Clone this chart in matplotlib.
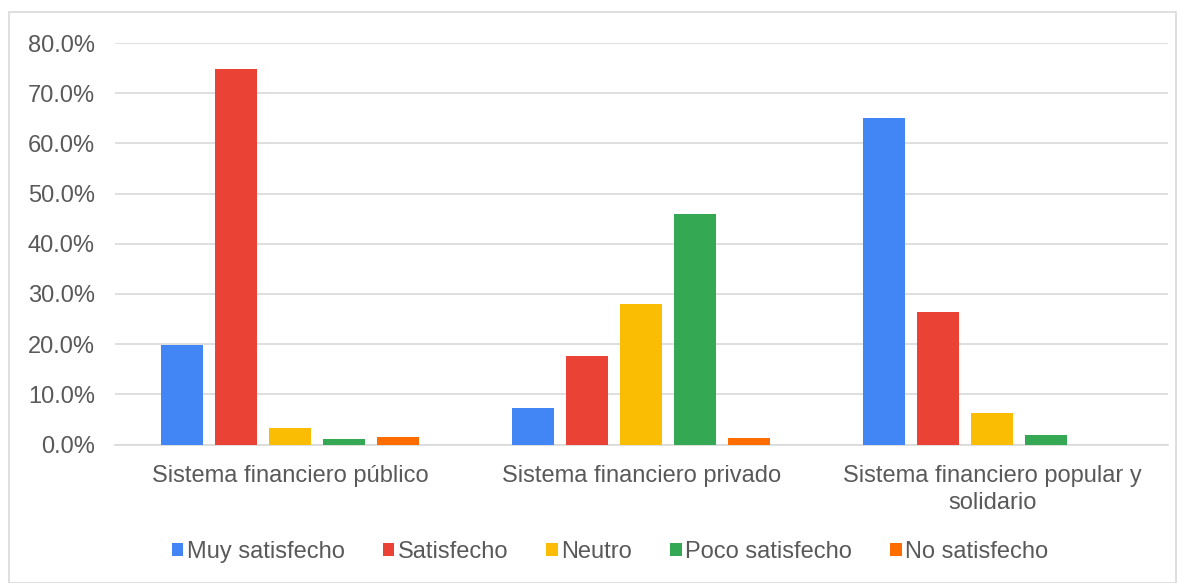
import matplotlib
matplotlib.use("Agg")
import matplotlib.pyplot as plt
from matplotlib.patches import Rectangle
from matplotlib.ticker import FuncFormatter
import numpy as np

categories = ["Sistema financiero público", "Sistema financiero privado",
              "Sistema financiero popular y\nsolidario"]
series_names = ["Muy satisfecho", "Satisfecho", "Neutro", "Poco satisfecho", "No satisfecho"]
muy_satisfecho = [19.8, 7.2, 65.1]
satisfecho = [74.8, 17.6, 26.4]
neutro = [3.2, 28.0, 6.2]
poco_satisfecho = [1.0, 45.9, 1.8]
no_satisfecho = [1.4, 1.3, 0.0]
colors = ["#4285F4", "#EA4335", "#FBBC04", "#34A853", "#FF6D01"]

plt.rcParams['font.family'] = ['Liberation Sans', 'DejaVu Sans']
FS = 17

fig = plt.figure(figsize=(11.84, 5.83), dpi=100)
ax = fig.add_axes([115/1184, 1-444.5/583, (1167.5-115)/1184, (444.5-43)/583])

values = [muy_satisfecho, satisfecho, neutro, poco_satisfecho, no_satisfecho]
x = np.arange(len(categories))
pitch = 54/351
width = 42/351
for i, (name, vals, c) in enumerate(zip(series_names, values, colors)):
    ax.bar(x + (i-2)*pitch, vals, width=width, color=c, label=name, zorder=3)

ax.set_xlim(-0.5, len(categories)-0.5)
ax.set_ylim(0, 80)
ax.set_yticks(np.arange(0, 81, 10))
ax.yaxis.set_major_formatter(FuncFormatter(lambda v, p: f"{v:.1f}%"))
ax.grid(axis='y', color='#d9d9d9', linewidth=1.2, zorder=0)
for s in ['top', 'right', 'left']:
    ax.spines[s].set_visible(False)
ax.spines['bottom'].set_color('#d9d9d9')
ax.spines['bottom'].set_linewidth(1.2)
ax.tick_params(axis='both', length=0, labelsize=FS, labelcolor='#595959')
ax.tick_params(axis='y', pad=14.4)
ax.tick_params(axis='x', pad=14.5)
ax.set_xticks(x)
ax.set_xticklabels(categories, linespacing=1.3)

leg = fig.legend(loc='center', bbox_to_anchor=(0.5 + 18/1184, 1-552/583), ncol=5, frameon=False,
                 fontsize=FS, handlelength=0.48, handleheight=0.48, handletextpad=0.15,
                 columnspacing=1.62)
for t in leg.get_texts():
    t.set_color('#595959')

fig.patches.append(Rectangle((9/1184, 0), (1176-9)/1184, 1-12/583, transform=fig.transFigure,
                             fill=False, edgecolor='#d9d9d9', linewidth=1.2))

fig.savefig("out.png", dpi=100)
